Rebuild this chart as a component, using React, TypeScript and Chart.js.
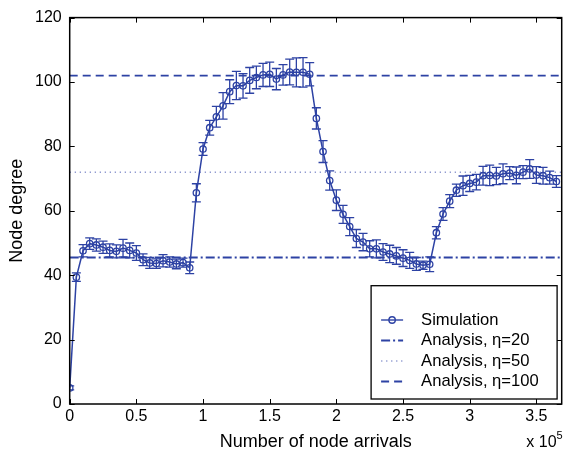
import { useEffect, useRef } from "react";
import { Chart, registerables } from "chart.js";

Chart.register(...registerables);

// ---- data ----
const arrivalStep = 5000; // node arrivals between samples
const nodeDegreeMean = [
  5.0, 39.4, 47.6, 49.8, 49.4, 48.7, 47.7, 47.4, 48.4, 47.7,
  46.9, 44.8, 43.8, 43.6, 44.5, 44.1, 43.5, 43.9, 42.3, 65.6,
  79.2, 85.8, 89.2, 92.6, 97.0, 98.9, 98.8, 100.5, 101.4, 102.2,
  102.4, 100.9, 102.2, 103.1, 103.0, 103.0, 102.4, 88.7, 78.4, 69.4,
  63.3, 58.9, 55.1, 51.4, 50.3, 48.2, 48.2, 47.2, 46.6, 46.0,
  45.3, 44.6, 43.5, 43.1, 43.4, 53.2, 59.0, 63.0, 66.4, 67.8,
  68.5, 68.9, 70.9, 71.0, 70.8, 71.5, 71.7, 71.0, 72.0, 73.0,
  71.1, 70.9, 70.3, 69.1,
];
const nodeDegreeErr = [
  0.6, 1.3, 1.9, 1.8, 1.9, 1.9, 2.0, 2.0, 2.7, 2.3,
  2.3, 1.8, 1.7, 1.5, 1.9, 1.6, 1.5, 1.4, 1.8, 2.8,
  2.0, 2.3, 3.2, 4.1, 3.7, 4.4, 3.8, 4.0, 3.5, 3.6,
  3.8, 3.3, 3.2, 4.0, 4.5, 4.6, 3.6, 3.3, 3.4, 3.0,
  3.2, 2.8, 2.8, 2.8, 2.7, 2.5, 2.8, 2.6, 2.7, 2.6,
  2.6, 2.5, 2.0, 1.3, 2.3, 1.9, 2.0, 2.0, 1.9, 3.0,
  2.5, 2.4, 2.9, 3.2, 2.7, 3.1, 2.0, 2.6, 2.0, 2.9,
  2.6, 2.6, 2.0, 1.8,
];
const arrivals = nodeDegreeMean.map((_, i) => i * arrivalStep);
const analysisEta20 = 45.5;
const analysisEta50 = 72.0;
const analysisEta100 = 102.0;

const xMin = 0;
const xMax = 369000;
const yMin = 0;
const yMax = 120;
const xTicks = [0, 50000, 100000, 150000, 200000, 250000, 300000, 350000];
const xTickLabels = ["0", "0.5", "1", "1.5", "2", "2.5", "3", "3.5"];
const yTicks = [0, 20, 40, 60, 80, 100, 120];
const yTickLabels = ["0", "20", "40", "60", "80", "100", "120"];

const legendLabels = ["Simulation", "Analysis, \u03b7=20", "Analysis, \u03b7=50", "Analysis, \u03b7=100"];
const xTitle = "Number of node arrivals";
const yTitle = "Node degree";
const xExponentBase = "x 10";
const xExponentPower = "5";

// ---- styles ----
const BLUE = "#2d42a4";
const BLUE_LIGHT = "#5868b8";
const FONT = '"Liberation Sans", Arial, sans-serif';
const DASH_DOT = [9, 3, 2, 3];
const DOTTED = [1.3, 3.7];
const DASHED = [8, 5];

const framePlugin = {
  id: "matlabFrame",
  afterDatasetsDraw(chart: any) {
    const { ctx, chartArea: a, scales } = chart;
    const x = scales.x;
    const y = scales.y;
    ctx.save();
    ctx.beginPath();
    ctx.rect(a.left, a.top, a.right - a.left, a.bottom - a.top);
    ctx.clip();
    ctx.strokeStyle = BLUE;
    ctx.lineWidth = 1.3;
    ctx.setLineDash([]);
    nodeDegreeMean.forEach((m, i) => {
      const px = x.getPixelForValue(arrivals[i]);
      const top = y.getPixelForValue(m + nodeDegreeErr[i]);
      const bot = y.getPixelForValue(m - nodeDegreeErr[i]);
      ctx.beginPath();
      ctx.moveTo(px, top);
      ctx.lineTo(px, bot);
      ctx.moveTo(px - 4.5, top);
      ctx.lineTo(px + 4.5, top);
      ctx.moveTo(px - 4.5, bot);
      ctx.lineTo(px + 4.5, bot);
      ctx.stroke();
    });
    ctx.restore();
  },
  afterDraw(chart: any) {
    const { ctx, chartArea: a, scales } = chart;
    const x = scales.x;
    const y = scales.y;
    ctx.save();
    // ticks inward on all sides
    ctx.strokeStyle = "#000";
    ctx.lineWidth = 1;
    ctx.setLineDash([]);
    const tl = 5;
    ctx.beginPath();
    xTicks.forEach((v) => {
      const px = Math.round(x.getPixelForValue(v)) + 0.5;
      ctx.moveTo(px, a.bottom);
      ctx.lineTo(px, a.bottom - tl);
      ctx.moveTo(px, a.top);
      ctx.lineTo(px, a.top + tl);
    });
    yTicks.forEach((v) => {
      const py = Math.round(y.getPixelForValue(v)) + 0.5;
      ctx.moveTo(a.left, py);
      ctx.lineTo(a.left + tl, py);
      ctx.moveTo(a.right, py);
      ctx.lineTo(a.right - tl, py);
    });
    ctx.stroke();
    // frame
    ctx.lineWidth = 1.5;
    ctx.strokeRect(a.left, a.top, a.right - a.left, a.bottom - a.top);

    // legend
    const bx0 = a.right - 4.6;
    const by1 = a.bottom - 5;
    const bw = 186;
    const bh = 113.3;
    const lx = bx0 - bw;
    const ly = by1 - bh;
    ctx.fillStyle = "#fff";
    ctx.fillRect(lx, ly, bw, bh);
    ctx.lineWidth = 1.3;
    ctx.strokeStyle = "#000";
    ctx.strokeRect(lx, ly, bw, bh);
    const rowY = [34.3, 54.8, 75.3, 95.8];
    const sx0 = lx + 10;
    const sx1 = lx + 32;
    legendLabels.forEach((label, i) => {
      const ry = ly + rowY[i];
      ctx.strokeStyle = i === 2 ? BLUE_LIGHT : BLUE;
      if (i === 0) {
        ctx.lineWidth = 1.4;
        ctx.setLineDash([]);
        ctx.beginPath();
        ctx.moveTo(sx0, ry);
        ctx.lineTo(sx1, ry);
        ctx.stroke();
        ctx.beginPath();
        ctx.arc((sx0 + sx1) / 2, ry, 3.2, 0, Math.PI * 2);
        ctx.stroke();
      } else {
        ctx.lineWidth = i === 2 ? 1 : 1.8;
        ctx.setLineDash(i === 1 ? DASH_DOT : i === 2 ? DOTTED : DASHED);
        ctx.beginPath();
        ctx.moveTo(sx0, ry);
        ctx.lineTo(sx1, ry);
        ctx.stroke();
      }
      ctx.setLineDash([]);
      ctx.fillStyle = "#000";
      ctx.font = `16.6px ${FONT}`;
      ctx.textAlign = "left";
      ctx.textBaseline = "middle";
      ctx.fillText(label, lx + 50, ry);
    });

    // exponent label
    ctx.fillStyle = "#000";
    ctx.textBaseline = "alphabetic";
    ctx.textAlign = "left";
    ctx.font = `11px ${FONT}`;
    const pw = ctx.measureText(xExponentPower).width;
    ctx.font = `16px ${FONT}`;
    const bwid = ctx.measureText(xExponentBase).width;
    const xr = a.right + 1;
    const base = 447;
    ctx.fillText(xExponentBase, xr - pw - bwid, base);
    ctx.font = `11px ${FONT}`;
    ctx.fillText(xExponentPower, xr - pw, base - 8);
    ctx.restore();
  },
};

export default function App() {
  const ref = useRef<HTMLCanvasElement | null>(null);
  useEffect(() => {
    document.body.style.margin = "0";
    const canvas = ref.current;
    if (!canvas) return;
    const refLine = (v: number) => [
      { x: xMin, y: v },
      { x: xMax, y: v },
    ];
    const chart = new Chart(canvas, {
      type: "line",
      data: {
        datasets: [
          {
            label: legendLabels[0],
            data: arrivals.map((a, i) => ({ x: a, y: nodeDegreeMean[i] })),
            borderColor: BLUE,
            backgroundColor: "rgba(0,0,0,0)",
            borderWidth: 1.5,
            pointRadius: 3.2,
            pointBorderWidth: 1.3,
            pointBorderColor: BLUE,
            pointBackgroundColor: "rgba(0,0,0,0)",
            tension: 0,
          },
          {
            label: legendLabels[1],
            data: refLine(analysisEta20),
            borderColor: BLUE,
            borderWidth: 1.8,
            borderDash: DASH_DOT,
            pointRadius: 0,
          },
          {
            label: legendLabels[2],
            data: refLine(analysisEta50),
            borderColor: BLUE_LIGHT,
            borderWidth: 1,
            borderDash: DOTTED,
            pointRadius: 0,
          },
          {
            label: legendLabels[3],
            data: refLine(analysisEta100),
            borderColor: BLUE,
            borderWidth: 1.8,
            borderDash: DASHED,
            pointRadius: 0,
          },
        ],
      },
      options: {
        animation: false,
        responsive: false,
        devicePixelRatio: 1,
        layout: { padding: { left: 0, right: 2.7, top: 14, bottom: 0 } },
        plugins: { legend: { display: false }, tooltip: { enabled: false } },
        scales: {
          x: {
            type: "linear",
            min: xMin,
            max: xMax,
            grid: { display: false, drawTicks: false },
            border: { display: false },
            afterFit: (s: any) => {
              s.height = 55;
            },
            afterBuildTicks: (s: any) => {
              s.ticks = xTicks.map((v) => ({ value: v }));
            },
            ticks: {
              padding: 3,
              color: "#000",
              font: { family: FONT, size: 16 },
              maxRotation: 0,
              autoSkip: false,
              callback: (_v: any, i: number) => xTickLabels[i],
            },
            title: {
              display: true,
              text: xTitle,
              color: "#000",
              font: { family: FONT, size: 18 },
              padding: { top: 0, bottom: 6.5 },
            },
          },
          y: {
            type: "linear",
            min: yMin,
            max: yMax,
            grid: { display: false, drawTicks: false },
            border: { display: false },
            afterFit: (s: any) => {
              s.width = 69.7;
            },
            afterBuildTicks: (s: any) => {
              s.ticks = yTicks.map((v) => ({ value: v }));
            },
            ticks: {
              padding: 8,
              color: "#000",
              font: { family: FONT, size: 16 },
              autoSkip: false,
              callback: (_v: any, i: number) => yTickLabels[i],
            },
            title: {
              display: true,
              text: yTitle,
              color: "#000",
              font: { family: FONT, size: 18 },
              padding: { top: 6.5, bottom: 0 },
            },
          },
        },
      },
      plugins: [framePlugin],
    });
    return () => chart.destroy();
  }, []);
  return (
    <div style={{ width: 567, height: 459 }}>
      <canvas ref={ref} width={567} height={459} style={{ display: "block" }} />
    </div>
  );
}
